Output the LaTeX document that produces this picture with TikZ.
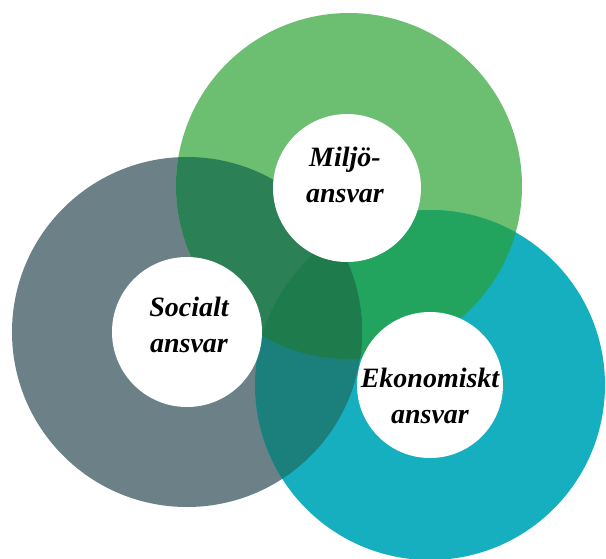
\documentclass[tikz,border=0pt]{standalone}
\usepackage{fontspec}
\setmainfont{Liberation Serif}
\definecolor{cgreen}{HTML}{6CBF70}
\definecolor{cgray}{HTML}{6B8087}
\definecolor{cteal}{HTML}{15AFC0}
\definecolor{cgg}{HTML}{2B8055}
\definecolor{cgt}{HTML}{1B7F7C}
\definecolor{cmt}{HTML}{22A35E}
\definecolor{ctri}{HTML}{1E7B4C}
\tikzset{
  hole/.style={circle, fill=white, inner sep=0pt, minimum size=#1},
  lbl/.style={align=center, inner sep=0pt, font=\fontsize{28}{36}\selectfont\bfseries\itshape}
}
\begin{document}
\begin{tikzpicture}[x=1pt,y=-1pt]
\useasboundingbox (0,0) rectangle (606,558);
\clip (0,0) rectangle (606,558);
\coordinate (cS) at (187,332);
\coordinate (cM) at (349,186);
\coordinate (cE) at (430,385);
% rings
\fill[cgray] (cS) circle[radius=175pt];
\fill[cgreen] (cM) circle[radius=173pt];
\fill[cteal] (cE) circle[radius=175pt];
\begin{scope}
  \clip (cM) circle[radius=173pt];
  \fill[cmt] (cE) circle[radius=175pt];
\end{scope}
\begin{scope}
  \clip (cS) circle[radius=175pt];
  \fill[cgg] (cM) circle[radius=173pt];
  \fill[cgt] (cE) circle[radius=175pt];
  \clip (cM) circle[radius=173pt];
  \fill[ctri] (cE) circle[radius=175pt];
\end{scope}
% white centres
\node[hole=150pt] (hS) at (187,332) {};
\node[hole=148pt] (hM) at (347,188) {};
\node[hole=146pt] (hE) at (430,385) {};
% labels
\node[lbl] (tM) at (345,175) {Miljö-\\ansvar};
\node[lbl] (tS) at (189,325) {Socialt\\ansvar};
\node[lbl] (tE) at (430,396) {Ekonomiskt\\ansvar};
\end{tikzpicture}
\end{document}
